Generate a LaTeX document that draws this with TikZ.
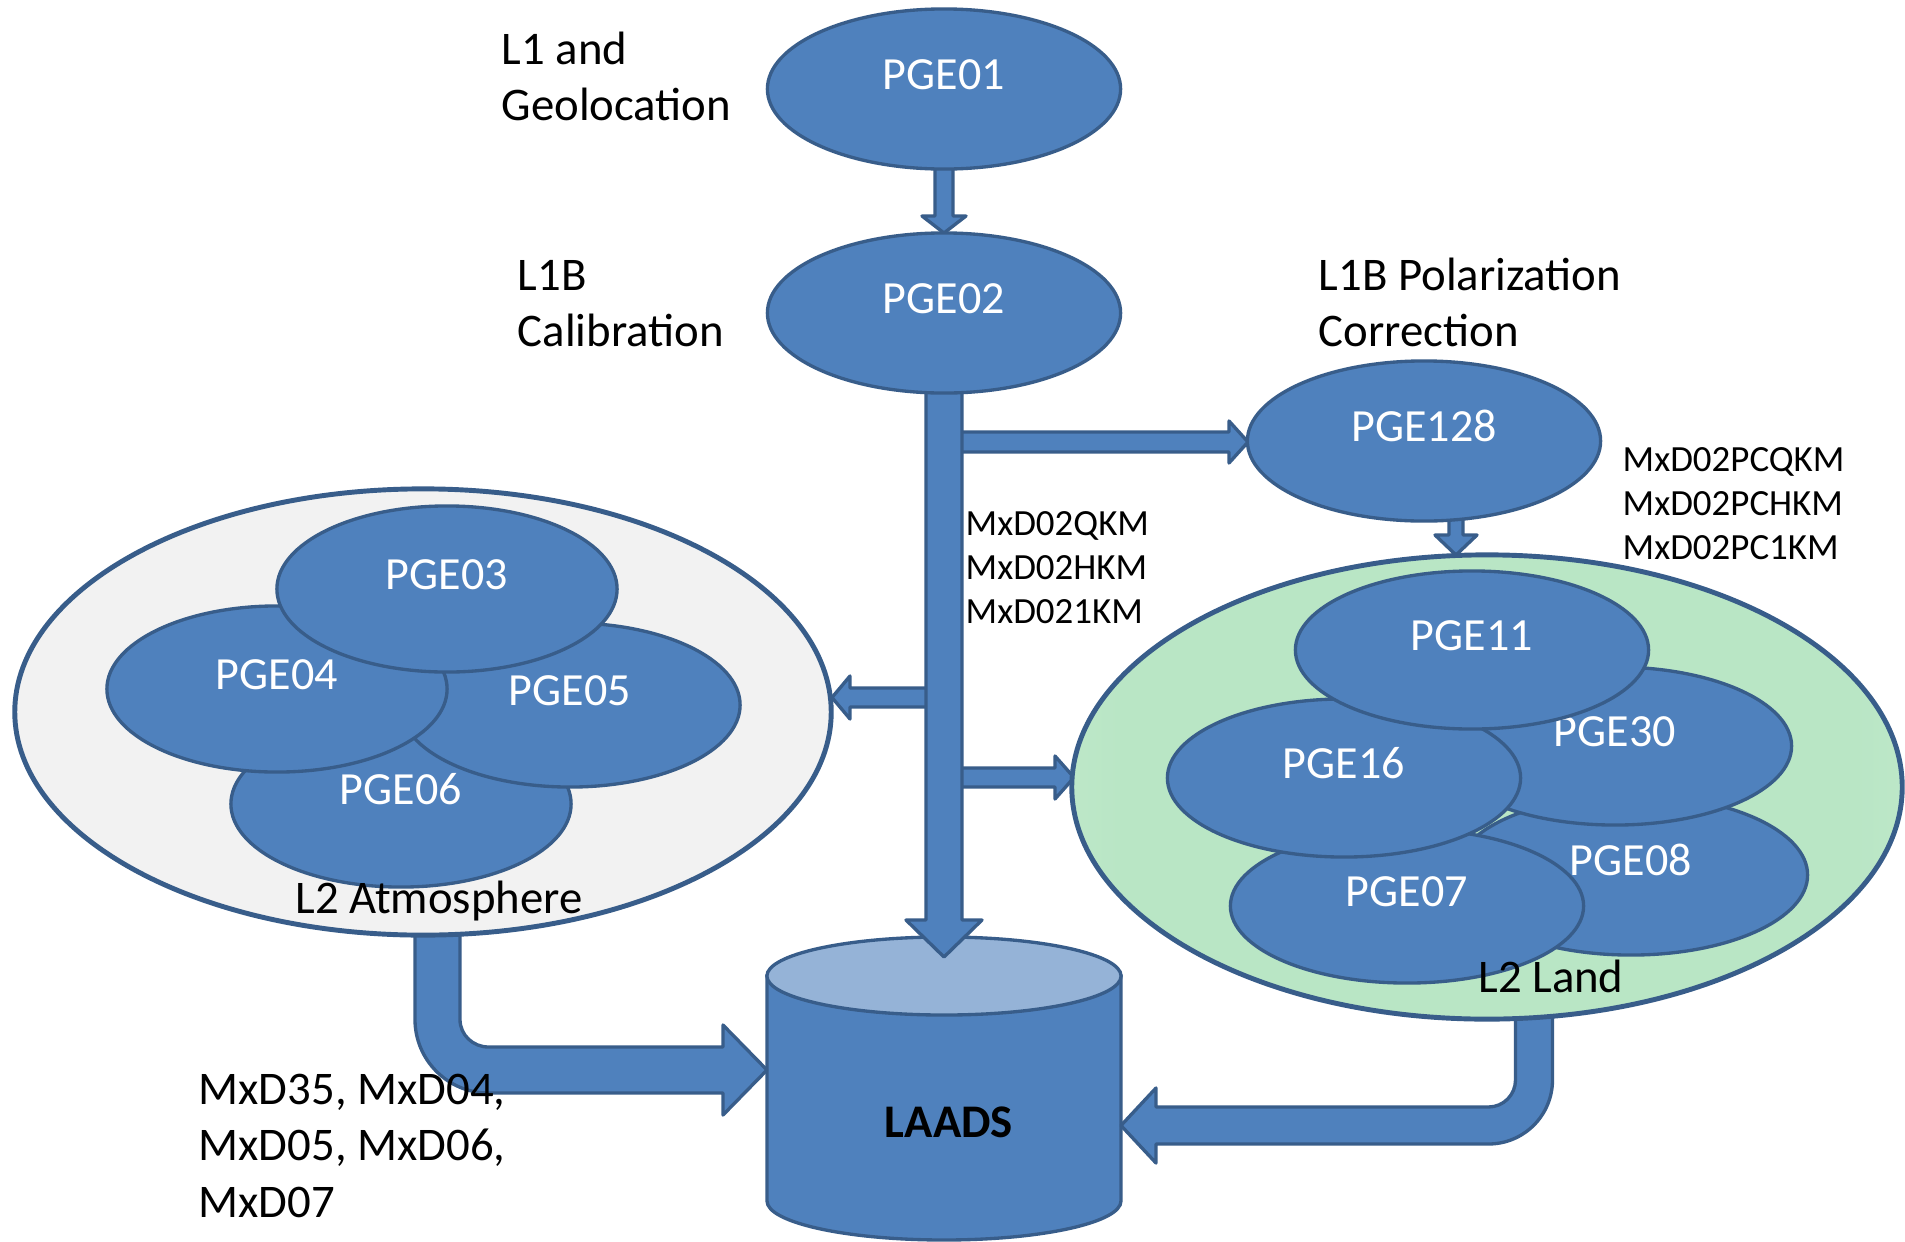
\documentclass[tikz,border=0pt]{standalone}
\usepackage{fontspec}
\setmainfont{Carlito}
\usetikzlibrary{shapes.geometric}
\definecolor{bfill}{HTML}{4F81BD}
\definecolor{bline}{HTML}{385D8A}
\definecolor{ctop}{HTML}{95B3D7}
\definecolor{atmfill}{HTML}{F2F2F2}
\definecolor{landin}{HTML}{B9E6C5}
\definecolor{landout}{HTML}{D6F0DC}
\pgfdeclarehorizontalshading{landshade}{100bp}{color(0bp)=(landout); color(4bp)=(landout); color(28bp)=(landin); color(72bp)=(landin); color(96bp)=(landout); color(100bp)=(landout)}
\newcommand{\mylines}[1]{\begin{tabular}[t]{@{}l@{}}#1\end{tabular}}
\begin{document}
\begin{tikzpicture}[x=0.01cm,y=-0.01cm,
  pge/.style={ellipse, draw=bline, fill=bfill, line width=0.95pt, text=white,
    font=\fontsize{13.1}{15}\selectfont, inner sep=0pt, text height=0pt, text depth=0pt},
  pgeA/.style={pge, minimum width=3.53cm, minimum height=1.6cm},
  pgeB/.style={pge, minimum width=3.40cm, minimum height=1.66cm},
  pgeC/.style={pge, minimum width=3.53cm, minimum height=1.58cm},
  group/.style={ellipse, draw=bline, line width=1.4pt},
  barrow/.style={draw=bline, fill=bfill, line width=0.95pt, line join=round},
  lbl/.style={inner sep=0pt, font=\fontsize{13.3}{16.2}\selectfont},
  sml/.style={inner sep=0pt, font=\fontsize{10.5}{12.6}\selectfont, anchor=base west}]
\useasboundingbox (0,0) rectangle (1905,1242);
\fill[white] (0,0) rectangle (1905,1242);

% cylinder LAADS
\path[fill=bfill, draw=bline, line width=0.95pt]
  (767,976) -- (767,1201) .. controls (767,1222.5) and (846.2,1240) .. (944,1240)
  .. controls (1041.8,1240) and (1121,1222.5) .. (1121,1201) -- (1121,976) -- cycle;
\draw[fill=ctop, draw=bline, line width=0.95pt] (944,976) ellipse [x radius=1.77cm, y radius=0.39cm];
\node[lbl, font=\fontsize{13.3}{16.2}\selectfont\bfseries, anchor=base] (laads) at (949,1137) {LAADS};

% bent arrows
\path[barrow] (415,920) -- (415,1019.5) .. controls (415,1060.1) and (447.9,1093) .. (488.5,1093)
  -- (723,1093) -- (723,1115) -- (767,1070) -- (723,1025) -- (723,1047) -- (488.5,1047)
  .. controls (473,1047) and (460,1035) .. (460,1019.5) -- (460,920) -- cycle;
\path[barrow] (1515.5,1000) -- (1515.5,1080) .. controls (1515.5,1094.9) and (1503.4,1107) .. (1488.5,1107)
  -- (1156,1107) -- (1156,1088) -- (1121,1125.5) -- (1156,1163) -- (1156,1144) -- (1488.5,1144)
  .. controls (1523.8,1144) and (1552.5,1115.3) .. (1552.5,1080) -- (1552.5,1000) -- cycle;

% straight arrows
\path[barrow] (935,160) -- (935,216) -- (922,216) -- (944,233) -- (966,216) -- (953,216) -- (953,160) -- cycle;
\path[barrow] (950,432) -- (1229,432) -- (1229,421) -- (1248,442) -- (1229,463) -- (1229,452) -- (950,452) -- cycle;
\path[barrow] (940,688) -- (850,688) -- (850,676) -- (832,697.5) -- (850,719) -- (850,707) -- (940,707) -- cycle;
\path[barrow] (940,768) -- (1055,768) -- (1055,756) -- (1074,777.5) -- (1055,799) -- (1055,787) -- (940,787) -- cycle;
\path[barrow] (1449,510) -- (1449,535) -- (1435,535) -- (1456,555) -- (1477,535) -- (1463,535) -- (1463,510) -- cycle;
\path[barrow] (926,380) -- (926,920) -- (906,920) -- (944,957) -- (982,920) -- (962,920) -- (962,380) -- cycle;

% group ellipses
\node[group, fill=atmfill, minimum width=8.16cm, minimum height=4.46cm] (atm) at (423,712) {};
\node[group, shading=landshade, minimum width=8.30cm, minimum height=4.64cm] (land) at (1487,787) {};

% atmosphere PGEs
\node[pgeB] (pge06) at (401,804) {PGE06};
\node[pgeB, minimum height=1.64cm] (pge05) at (570,705) {PGE05};
\node[pgeB] (pge04) at (277,689) {PGE04};
\node[pgeB] (pge03) at (447,589) {PGE03};

% land PGEs
\node[pgeC, minimum height=1.6cm] (pge08) at (1631,875) {PGE08};
\node[pgeC] (pge30) at (1615,746) {PGE30};
\node[pgeC, minimum height=1.54cm] (pge07) at (1407,906) {PGE07};
\node[pgeC] (pge16) at (1344,778) {PGE16};
\node[pgeC] (pge11) at (1472,650) {PGE11};

% top PGEs
\node[pgeA] (pge01) at (944,89) {PGE01};
\node[pgeA] (pge02) at (944,313) {PGE02};
\node[pgeA] (pge128) at (1424,441) {PGE128};

% labels
\node[lbl, anchor=base west] (t1) at (501,64) {\mylines{L1 and\\Geolocation}};
\node[lbl, anchor=base west] (t2) at (517,290) {\mylines{L1B\\Calibration}};
\node[lbl, anchor=base west] (t3) at (1318,290) {\mylines{L1B Polarization\\Correction}};
\node[lbl, anchor=base] (t4) at (439,913) {L2 Atmosphere};
\node[lbl, anchor=base] (t5) at (1551,992) {L2 Land};
\node[lbl, anchor=base west] (t6) at (198,1104) {\mylines{MxD35, MxD04,\\MxD05, MxD06,\\MxD07}};
\node[sml] (t7) at (965,535) {\mylines{MxD02QKM\\MxD02HKM\\MxD021KM}};
\node[sml] (t8) at (1622,471) {\mylines{MxD02PCQKM\\MxD02PCHKM\\MxD02PC1KM}};
\end{tikzpicture}
\end{document}
